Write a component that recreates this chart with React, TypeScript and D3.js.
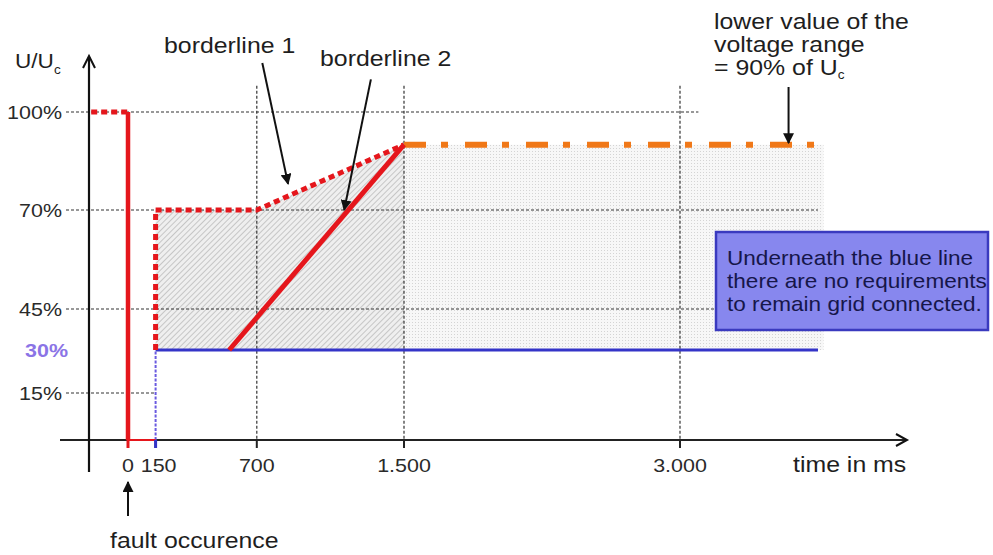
import React, { useEffect } from "react";
import * as d3 from "d3";

// ---- data ----
const xTickTimes = [0, 150, 700, 1500, 3000];
const xTickLabels = ["0", "150", "700", "1.500", "3.000"];
const yTickValues = [100, 70, 45, 30, 15];
const yTickLabels = ["100%", "70%", "45%", "30%", "15%"];
const yGridValues = [100, 70, 45, 15];
const yGridEndTimes = [3100, 3750, 3200, 150];
const xGridTimes = [700, 1500, 3000];

// borderline 1 (red dotted)
const bl1Pre = [
  { t: -200, u: 100 },
  { t: 0, u: 100 },
];
const bl1Post = [
  { t: 150, u: 30 },
  { t: 150, u: 70 },
  { t: 700, u: 70 },
  { t: 1500, u: 90 },
];
// fault drop (solid red)
const faultDrop = [
  { t: 0, u: 100 },
  { t: 0, u: 0 },
];
const faultBottom = [
  { t: 0, u: 0 },
  { t: 150, u: 0 },
];
// borderline 2 (red solid)
const bl2 = [
  { t: 550, u: 30 },
  { t: 1500, u: 90 },
];
// blue line
const blueVert = [
  { t: 150, u: 0 },
  { t: 150, u: 30 },
];
const blueHoriz = [
  { t: 150, u: 30 },
  { t: 3750, u: 30 },
];
// orange 90% line
const orange90 = [
  { t: 1500, u: 90 },
  { t: 3750, u: 90 },
];
// shaded areas
const hatchArea = [
  { t: 150, u: 70 },
  { t: 700, u: 70 },
  { t: 1500, u: 90 },
];
const dotArea = [
  { t: 1500, u: 90 },
  { t: 3780, u: 90 },
];

// ---- layout ----
const W = 993;
const H = 555;
const SX = 1.13;
const FONT = "'Liberation Sans', Arial, Helvetica, sans-serif";

const x = d3.scaleLinear().domain([0, 3000]).range([128, 680]);
const y = d3
  .scaleLinear()
  .domain([0, 15, 30, 45, 70, 100])
  .range([440, 393, 350, 309, 210, 112]);

const axisX = 89;
const axisY = y(0);

type P = { t: number; u: number };
const line = d3
  .line<P>()
  .x((d) => x(d.t))
  .y((d) => y(d.u));
const area = d3
  .area<P>()
  .x((d) => x(d.t))
  .y0(() => y(30))
  .y1((d) => y(d.u));

function T(props: {
  x: number;
  y: number;
  size: number;
  anchor?: string;
  fill?: string;
  weight?: string | number;
  children: React.ReactNode;
}) {
  const { x: tx, y: ty, size, anchor = "start", fill = "#1e1e1e", weight = "normal", children } = props;
  return (
    <text
      transform={`translate(${tx},${ty}) scale(${SX},1)`}
      textAnchor={anchor as any}
      fontSize={size}
      fontFamily={FONT}
      fill={fill}
      fontWeight={weight as any}
    >
      {children}
    </text>
  );
}

export default function App() {
  useEffect(() => {
    document.body.style.margin = "0";
  }, []);

  const red = "#e5161c";
  const blue = "#3434c8";

  return (
    <svg
      width={W}
      height={H}
      viewBox={`0 0 ${W} ${H}`}
      style={{ position: "absolute", left: 0, top: 0, background: "#fff" }}
    >
      <defs>
        <pattern id="hatch" width="4" height="4" patternUnits="userSpaceOnUse" patternTransform="rotate(45)">
          <rect width="4" height="4" fill="#efefef" />
          <line x1="0" y1="0" x2="0" y2="4" stroke="#b4b4b4" strokeWidth="1.4" />
        </pattern>
        <pattern id="dots" width="3" height="3" patternUnits="userSpaceOnUse">
          <rect width="3" height="3" fill="#f7f7f7" />
          <rect x="1" y="1" width="1" height="1" fill="#d4d4d4" />
        </pattern>
        <marker id="tri" viewBox="0 0 10 10" refX="9" refY="5" markerWidth="11" markerHeight="11" markerUnits="userSpaceOnUse" orient="auto">
          <path d="M0,0 L10,5 L0,10 Z" fill="#111" />
        </marker>
      </defs>

      {/* shaded areas */}
      <path d={area(hatchArea) || ""} fill="url(#hatch)" />
      <path d={area(dotArea) || ""} fill="url(#dots)" />

      {/* grid */}
      {yGridValues.map((v, i) => (
        <line
          key={"gy" + v}
          x1={66}
          x2={x(yGridEndTimes[i])}
          y1={y(v)}
          y2={y(v)}
          stroke="#333"
          strokeWidth={1.2}
          strokeDasharray="3 2"
        />
      ))}
      {xGridTimes.map((t) => (
        <line
          key={"gx" + t}
          x1={x(t)}
          x2={x(t)}
          y1={y(108)}
          y2={axisY}
          stroke="#333"
          strokeWidth={1.2}
          strokeDasharray="3 2"
        />
      ))}

      {/* axes */}
      <line x1={60} x2={906} y1={axisY} y2={axisY} stroke="#222" strokeWidth={2} />
      <path d={`M${896},${axisY - 6} L${907},${axisY} L${896},${axisY + 6}`} fill="none" stroke="#111" strokeWidth={2} />
      <line x1={axisX} x2={axisX} y1={472} y2={57} stroke="#111" strokeWidth={2.2} />
      <path d={`M${axisX - 6},${68} L${axisX},${56} L${axisX + 6},${68}`} fill="none" stroke="#111" strokeWidth={2} />
      {xTickTimes.map((t) => (
        <line key={"tk" + t} x1={x(t)} x2={x(t)} y1={axisY} y2={axisY + 8} stroke="#222" strokeWidth={2} />
      ))}

      {/* stipple right edge, orange 90% */}
      <path d={line(orange90) || ""} fill="none" stroke="#f07818" strokeWidth={6} strokeDasharray="22 15 7 17" />

      {/* blue line */}
      <path d={line(blueHoriz) || ""} fill="none" stroke={blue} strokeWidth={3} />
      <path d={line(blueVert) || ""} fill="none" stroke="#6a5ae0" strokeWidth={2} strokeDasharray="3 1.5" />

      {/* borderline 2 */}
      <path d={line(bl2) || ""} fill="none" stroke={red} strokeWidth={5} strokeLinecap="butt" />

      {/* fault drop */}
      <path d={line(faultDrop) || ""} fill="none" stroke={red} strokeWidth={4.5} />
      <path d={line(faultBottom) || ""} fill="none" stroke={red} strokeWidth={2} />
      <line x1={x(0)} x2={x(0)} y1={axisY} y2={axisY + 8} stroke={red} strokeWidth={3} />
      <line x1={x(150)} x2={x(150)} y1={axisY} y2={axisY + 8} stroke={blue} strokeWidth={3} />

      {/* borderline 1 */}
      <path d={line(bl1Pre) || ""} fill="none" stroke={red} strokeWidth={5} strokeDasharray="6 4" />
      <path d={line(bl1Post) || ""} fill="none" stroke={red} strokeWidth={5} strokeDasharray="6 4" strokeLinejoin="miter" />

      {/* y tick labels */}
      {yTickValues.map((v, i) =>
        v === 30 ? (
          <T key={"yl" + v} x={68} y={y(v) + 7} size={19} anchor="end" fill="#8b74e6" weight="bold">
            {yTickLabels[i]}
          </T>
        ) : (
          <T key={"yl" + v} x={62} y={y(v) + 7} size={19} anchor="end" fill="#2a2a2a">
            {yTickLabels[i]}
          </T>
        )
      )}

      {/* x tick labels */}
      {xTickTimes.map((t, i) => (
        <T key={"xl" + t} x={x(t) + (t === 150 ? 3 : 0)} y={472} size={19} anchor="middle" fill="#2a2a2a">
          {xTickLabels[i]}
        </T>
      ))}
      <T x={793} y={472} size={22}>time in ms</T>

      {/* y axis title */}
      <T x={15} y={68} size={20}>
        U/U
        <tspan fontSize={12} dy={6}>c</tspan>
      </T>

      {/* fault occurence */}
      <line x1={x(0)} x2={x(0)} y1={axisY + 76} y2={axisY + 42} stroke="#111" strokeWidth={2} markerEnd="url(#tri)" />
      <T x={110} y={548} size={22}>fault occurence</T>

      {/* borderline labels and arrows */}
      <T x={164} y={53} size={22}>borderline 1</T>
      <line x1={x(730)} y1={y(115)} x2={x(870)} y2={y(78)} stroke="#111" strokeWidth={2} markerEnd="url(#tri)" />
      <T x={320} y={66} size={22}>borderline 2</T>
      <line x1={x(1320)} y1={y(110)} x2={x(1175)} y2={y(70)} stroke="#111" strokeWidth={2} markerEnd="url(#tri)" />

      {/* 90% annotation */}
      <T x={714} y={29} size={22}>lower value of the</T>
      <T x={714} y={52} size={22}>voltage range</T>
      <T x={714} y={75} size={22}>
        = 90% of U
        <tspan fontSize={12} dy={4}>c</tspan>
      </T>
      <line x1={x(3590)} y1={87} x2={x(3590)} y2={y(90.5)} stroke="#111" strokeWidth={2} markerEnd="url(#tri)" />

      {/* blue box */}
      <rect x={716} y={232} width={272} height={98} fill="#8787ee" stroke="#3a3abf" strokeWidth={2.5} />
      <T x={727} y={265} size={20} fill="#16164a">Underneath the blue line</T>
      <T x={727} y={288} size={20} fill="#16164a">there are no requirements</T>
      <T x={727} y={311} size={20} fill="#16164a">to remain grid connected.</T>
    </svg>
  );
}
